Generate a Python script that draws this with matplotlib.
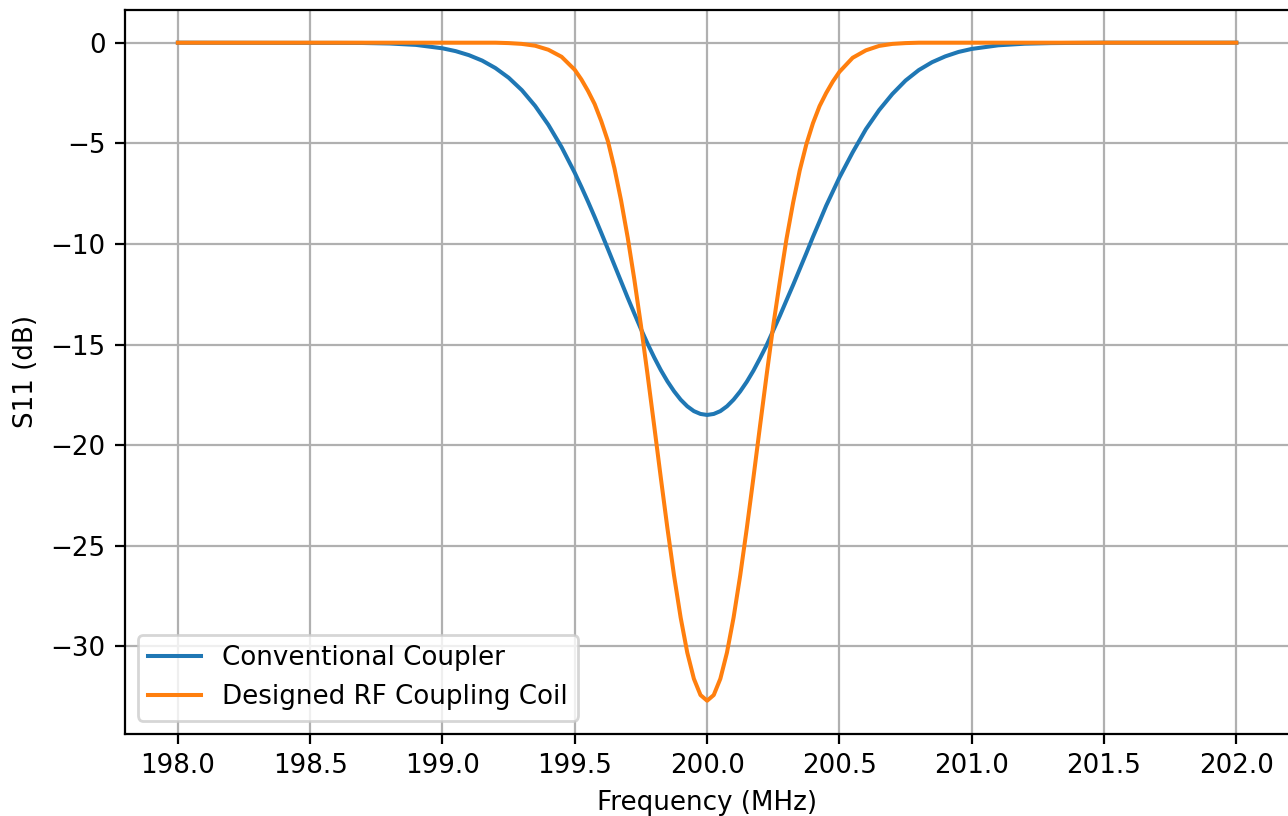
import matplotlib
matplotlib.use("Agg")
import matplotlib.pyplot as plt

# Frequency sample points (MHz): sparse on the flat tails, denser across the dip
freq_tail_left = [198.0, 198.5, 198.6, 198.7, 198.8, 198.9]
freq_skirt_left = [199.0, 199.05, 199.1, 199.15, 199.2, 199.25, 199.3, 199.35, 199.4, 199.45]
freq_dip = [199.5, 199.525, 199.55, 199.575, 199.6, 199.625, 199.65, 199.675, 199.7, 199.725,
            199.75, 199.775, 199.8, 199.825, 199.85, 199.875, 199.9, 199.925, 199.95, 199.975,
            200.0,
            200.025, 200.05, 200.075, 200.1, 200.125, 200.15, 200.175, 200.2, 200.225, 200.25,
            200.275, 200.3, 200.325, 200.35, 200.375, 200.4, 200.425, 200.45, 200.475, 200.5]
freq_skirt_right = [200.55, 200.6, 200.65, 200.7, 200.75, 200.8, 200.85, 200.9, 200.95, 201.0]
freq_tail_right = [201.1, 201.2, 201.3, 201.4, 201.5, 202.0]

# S11 of the conventional coupler (dB)
conv_tail_left = [0.0, -0.01, -0.01, -0.015, -0.04, -0.11]
conv_skirt_left = [-0.28, -0.42, -0.62, -0.89, -1.26, -1.74, -2.36, -3.14, -4.08, -5.19]
conv_dip = [-6.47, -7.17, -7.90, -8.66, -9.45, -10.25, -11.06, -11.87, -12.68, -13.46,
            -14.23, -14.96, -15.64, -16.27, -16.83, -17.32, -17.74, -18.07, -18.31, -18.45,
            -18.5,
            -18.45, -18.31, -18.07, -17.74, -17.33, -16.85, -16.30, -15.68, -15.03, -14.3,
            -13.57, -12.8, -12.04, -11.25, -10.46, -9.65, -8.88, -8.1, -7.40, -6.7]
conv_skirt_right = [-5.45, -4.3, -3.35, -2.55, -1.88, -1.36, -0.97, -0.68, -0.46, -0.31]
conv_tail_right = [-0.13, -0.05, -0.02, -0.01, 0.0, 0.0]

# S11 of the designed RF coupling coil (dB)
coil_tail_left = [0.0, 0.0, 0.0, 0.0, 0.0, 0.0]
coil_skirt_left = [0.0, 0.0, 0.0, 0.0, 0.0, -0.02, -0.06, -0.15, -0.35, -0.7]
coil_dip = [-1.35, -1.83, -2.4, -3.05, -3.9, -4.89, -6.25, -7.85, -9.69, -11.77,
            -14.05, -16.5, -19.04, -21.62, -24.13, -26.48, -28.57, -30.31, -31.61, -32.42,
            -32.7,
            -32.42, -31.61, -30.31, -28.57, -26.48, -24.13, -21.62, -19.04, -16.5, -14.05,
            -11.85, -9.75, -7.95, -6.35, -5.05, -4.0, -3.15, -2.5, -1.93, -1.45]
coil_skirt_right = [-0.75, -0.38, -0.16, -0.06, -0.02, 0.0, 0.0, 0.0, 0.0, 0.0]
coil_tail_right = [0.0, 0.0, 0.0, 0.0, 0.0, 0.0]

freq = freq_tail_left + freq_skirt_left + freq_dip + freq_skirt_right + freq_tail_right
s11_conventional = conv_tail_left + conv_skirt_left + conv_dip + conv_skirt_right + conv_tail_right
s11_coil = coil_tail_left + coil_skirt_left + coil_dip + coil_skirt_right + coil_tail_right

plt.rcParams['font.size'] = 9.4

fig = plt.figure(figsize=(6.44, 4.08), dpi=200)
ax = fig.add_axes([0.097, 0.101, 0.904, 0.887])

ax.plot(freq, s11_conventional, linewidth=1.45, label='Conventional Coupler')
ax.plot(freq, s11_coil, linewidth=1.45, label='Designed RF Coupling Coil')

ax.set_xlabel('Frequency (MHz)')
ax.set_ylabel('S11 (dB)')
ax.grid(True)
ax.legend(loc='lower left')

fig.savefig('out.png', dpi=200)
